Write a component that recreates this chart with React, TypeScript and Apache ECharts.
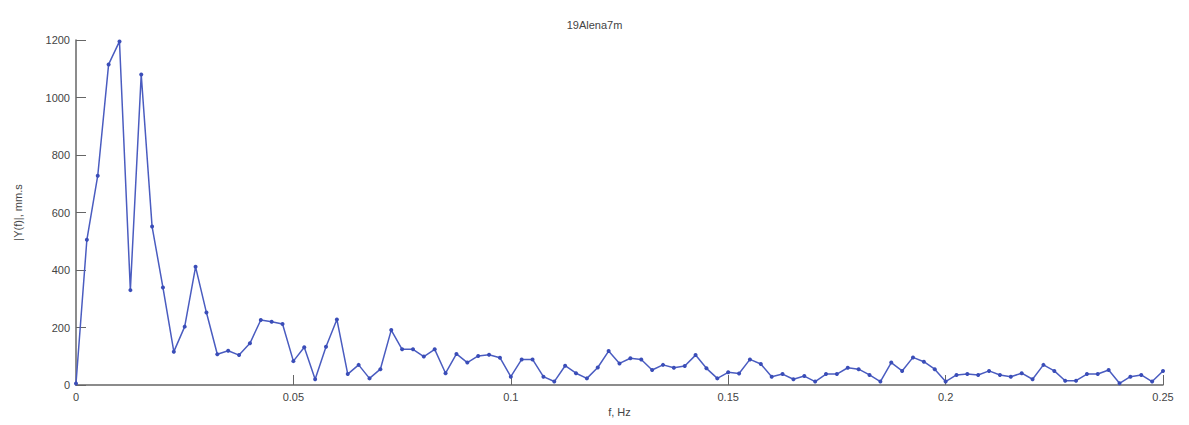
import React, { useEffect, useRef } from "react";
import * as echarts from "echarts";

const titleText = "19Alena7m";
const xName = "f, Hz";
const yName = "|Y(f)|, mm.s";
const freqStep = 0.0025;
const amplitudes = [
  5, 505, 728, 1115, 1195, 330, 1080, 551, 339, 116,
  203, 411, 252, 107, 119, 104, 145, 226, 220, 212,
  83, 131, 20, 133, 228, 38, 70, 23, 55, 191,
  124, 124, 99, 124, 41, 108, 78, 101, 105, 95,
  29, 89, 89, 29, 12, 67, 41, 23, 61, 118,
  75, 93, 89, 52, 70, 60, 66, 104, 58, 23,
  44, 40, 89, 73, 29, 38, 20, 31, 12, 38,
  38, 60, 55, 35, 12, 78, 49, 96, 81, 55,
  12, 35, 38, 35, 49, 35, 29, 41, 20, 70,
  49, 15, 15, 38, 38, 52, 6, 29, 35, 12,
  49,
];
const xTicks = [0, 0.05, 0.1, 0.15, 0.2, 0.25];

export default function App() {
  const ref = useRef<HTMLDivElement>(null);
  useEffect(() => {
    if (!ref.current) return;
    const chart = echarts.init(ref.current, undefined, { renderer: "svg" });
    const data = amplitudes.map((v, i) => [+(i * freqStep).toFixed(4), v]);
    const textColor = "#444";
    const font = "Liberation Sans";
    chart.setOption({
      animation: false,
      backgroundColor: "#ffffff",
      title: {
        text: titleText,
        left: "center",
        top: 6,
        textStyle: { fontSize: 11, fontWeight: "normal", color: textColor, fontFamily: font },
      },
      grid: {
        left: 68,
        right: 18,
        top: 32,
        bottom: 40,
        containLabel: false,
        outerBoundsMode: "none",
      },
      xAxis: {
        type: "value",
        min: 0,
        max: 0.25,
        interval: 0.05,
        name: xName,
        nameLocation: "middle",
        nameGap: 21,
        nameTextStyle: { fontSize: 11, color: textColor, fontFamily: font },
        axisLine: { onZero: false, lineStyle: { color: "#666", width: 1.5 } },
        axisTick: { inside: true, length: 10, lineStyle: { color: "#666" } },
        axisLabel: {
          color: textColor,
          fontSize: 11,
          fontFamily: font,
          margin: 6,
          formatter: (v: number) => (xTicks.includes(+v.toFixed(2)) ? String(+v.toFixed(2)) : ""),
        },
        splitLine: { show: false },
      },
      yAxis: {
        type: "value",
        min: 0,
        max: 1200,
        interval: 200,
        name: yName,
        nameLocation: "middle",
        nameGap: 53,
        nameTextStyle: { fontSize: 11, color: textColor, fontFamily: font },
        axisLine: { show: true, lineStyle: { color: "#666", width: 1.5 } },
        axisTick: { show: true, inside: true, length: 10, lineStyle: { color: "#666" } },
        axisLabel: {
          color: textColor,
          fontSize: 11,
          fontFamily: font,
          margin: 6,
          formatter: (v: number) => String(v),
        },
        splitLine: { show: false },
      },
      series: [
        {
          type: "line",
          data,
          symbol: "circle",
          symbolSize: 4,
          itemStyle: { color: "#3a4db8" },
          lineStyle: { color: "#4a5cc0", width: 1.5 },
        },
      ],
    });
    return () => chart.dispose();
  }, []);
  return <div ref={ref} style={{ width: 1173, height: 417 }} />;
}
